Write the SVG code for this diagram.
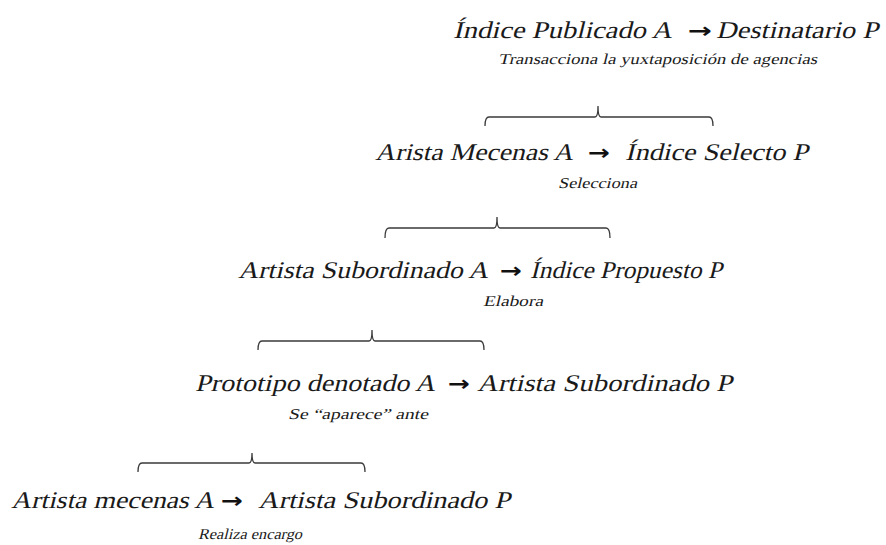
<svg xmlns="http://www.w3.org/2000/svg" width="886" height="545" viewBox="0 0 886 545">
<style>
.m{font-family:"Liberation Serif","Times New Roman",serif;font-size:24px;fill:#1a1a1a}
.s{font-family:"Liberation Serif","Times New Roman",serif;font-size:15px;fill:#1a1a1a}
.ar{font-family:"DejaVu Sans",sans-serif;font-weight:bold;font-size:21px;fill:#111}
.br{fill:none;stroke:#3a3a3a;stroke-width:1.3}
</style>
<rect width="886" height="545" fill="#fff"/>
<g id="n1">
<text class="m" transform="translate(453,38) skewX(-14)" textLength="219" lengthAdjust="spacingAndGlyphs">Índice Publicado A</text>
<text class="ar" x="688" y="38" textLength="24" lengthAdjust="spacingAndGlyphs">→</text>
<text class="m" transform="translate(716,38) skewX(-14)" textLength="162" lengthAdjust="spacingAndGlyphs">Destinatario P</text>
<text class="s" transform="translate(498,64) skewX(-14)" textLength="319" lengthAdjust="spacingAndGlyphs">Transacciona la yuxtaposición de agencias</text>
</g>
<g id="n2">
<text class="m" transform="translate(375,160) skewX(-14)" textLength="198" lengthAdjust="spacingAndGlyphs">Arista Mecenas A</text>
<text class="ar" x="588" y="160" textLength="22" lengthAdjust="spacingAndGlyphs">→</text>
<text class="m" transform="translate(625,160) skewX(-14)" textLength="183" lengthAdjust="spacingAndGlyphs">Índice Selecto P</text>
<text class="s" transform="translate(558,188) skewX(-14)" textLength="79" lengthAdjust="spacingAndGlyphs">Selecciona</text>
</g>
<g id="n3">
<text class="m" transform="translate(238,278) skewX(-14)" textLength="250" lengthAdjust="spacingAndGlyphs">Artista Subordinado A</text>
<text class="ar" x="500" y="278" textLength="22" lengthAdjust="spacingAndGlyphs">→</text>
<text class="m" transform="translate(530,278) skewX(-14)" textLength="192" lengthAdjust="spacingAndGlyphs">Índice Propuesto P</text>
<text class="s" transform="translate(483,306) skewX(-14)" textLength="60" lengthAdjust="spacingAndGlyphs">Elabora</text>
</g>
<g id="n4">
<text class="m" transform="translate(195,391) skewX(-14)" textLength="240" lengthAdjust="spacingAndGlyphs">Prototipo denotado A</text>
<text class="ar" x="448" y="391" textLength="22" lengthAdjust="spacingAndGlyphs">→</text>
<text class="m" transform="translate(477,391) skewX(-14)" textLength="255" lengthAdjust="spacingAndGlyphs">Artista Subordinado P</text>
<text class="s" transform="translate(288,419) skewX(-14)" textLength="140" lengthAdjust="spacingAndGlyphs">Se “aparece” ante</text>
</g>
<g id="n5">
<text class="m" transform="translate(11,508) skewX(-14)" textLength="203" lengthAdjust="spacingAndGlyphs">Artista mecenas A</text>
<text class="ar" x="221" y="508" textLength="22" lengthAdjust="spacingAndGlyphs">→</text>
<text class="m" transform="translate(258,508) skewX(-14)" textLength="252" lengthAdjust="spacingAndGlyphs">Artista Subordinado P</text>
<text class="s" transform="translate(198,539) skewX(-14)" textLength="104" lengthAdjust="spacingAndGlyphs">Realiza encargo</text>
</g>
<g id="connectors">
<path class="br" d="M485,126 Q485,117 489,117 H595 Q598,117 598,106 Q598,117 601,117 H709 Q713,117 713,126"/>
<path class="br" d="M385,238 Q385,228 389,228 H494 Q497,228 497,217 Q497,228 500,228 H606 Q610,228 610,238"/>
<path class="br" d="M258,350 Q258,341 262,341 H369 Q372,341 372,330 Q372,341 375,341 H480 Q484,341 484,350"/>
<path class="br" d="M138,472 Q138,463 142,463 H249 Q252,463 252,453 Q252,463 255,463 H361 Q365,463 365,472"/>
</g>
</svg>
